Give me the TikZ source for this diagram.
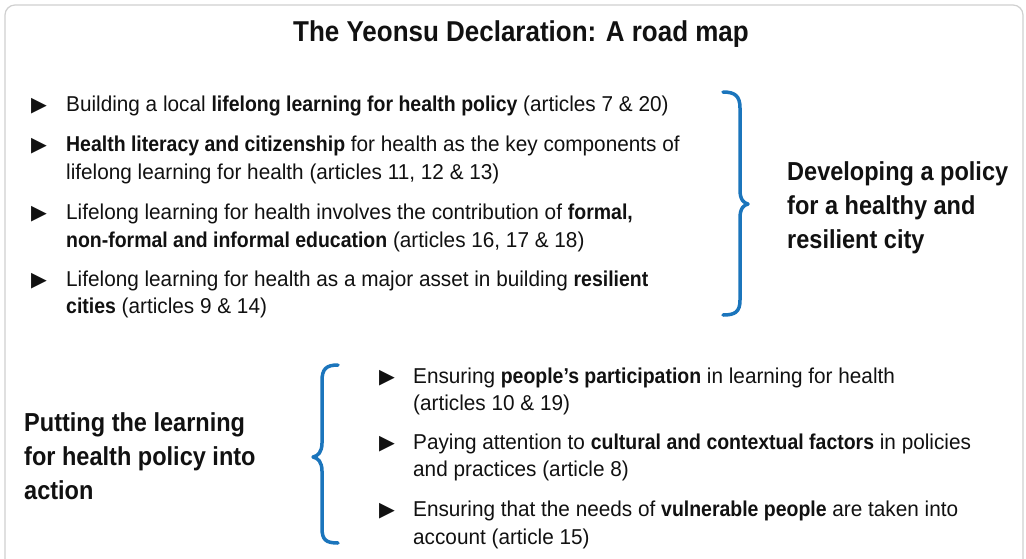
\documentclass[tikz,border=0pt]{standalone}
\usepackage{fontspec}
\setmainfont{Liberation Sans}[FakeStretch=0.965, BoldFeatures={FakeStretch=0.905}]
\newfontfamily\symfont{DejaVu Sans}
\definecolor{braceblue}{HTML}{1B75BC}
\definecolor{framegray}{HTML}{D0D0D0}
\definecolor{ink}{HTML}{111111}
\newcommand{\bodyfont}{\fontsize{21.5}{28}\selectfont}
\newcommand{\labfont}{\fontsize{26}{34}\selectfont\bfseries}
\newcommand{\titfont}{\fontsize{28.7}{36}\selectfont\bfseries}
\tikzset{
  txt/.style={anchor=base west, inner sep=0pt, text=ink, font=\bodyfont},
  bul/.style={anchor=base west, inner sep=0pt, text=ink, font=\symfont\fontsize{20.5}{22}\selectfont},
  lab/.style={anchor=base west, inner sep=0pt, text=ink, font=\labfont},
  bracestyle/.style={draw=braceblue, line width=3.5pt, line cap=round, line join=round}
}
\begin{document}
\begin{tikzpicture}[x=1pt,y=-1pt]
\useasboundingbox (0,0) rectangle (1026,558);
\fill[white] (0,0) rectangle (1026,558);
\draw[framegray, line width=1.2pt, rounded corners=10pt] (5,5) rectangle (1023,590);
% title
\node[anchor=base west, inner sep=0pt, text=ink, font=\titfont] (title) at (293,41) {The Yeonsu Declaration: A road map};
% top bullets
\node[bul] (t1) at (31,111) {▶};
\node[txt] (b1) at (66,111) {Building a local \textbf{lifelong learning for health policy} (articles 7 \& 20)};
\node[bul] (t2) at (31,151) {▶};
\node[txt] (b2a) at (66,151) {\textbf{Health literacy and citizenship} for health as the key components of};
\node[txt] (b2b) at (66,179) {lifelong learning for health (articles 11, 12 \& 13)};
\node[bul] (t3) at (31,219) {▶};
\node[txt] (b3a) at (66,219) {Lifelong learning for health involves the contribution of \textbf{formal,}};
\node[txt] (b3b) at (66,247) {\textbf{non-formal and informal education} (articles 16, 17 \& 18)};
\node[bul] (t4) at (31,286) {▶};
\node[txt] (b4a) at (66,286) {Lifelong learning for health as a major asset in building \textbf{resilient}};
\node[txt] (b4b) at (66,313) {\textbf{cities} (articles 9 \& 14)};
% top brace
\draw[bracestyle] (723,92) .. controls (735,92) and (740,96) .. (740,108) -- (740,190)
  .. controls (740,200) and (744,203) .. (748,204)
  .. controls (744,205) and (740,208) .. (740,218) -- (740,300)
  .. controls (740,312) and (735,315) .. (723,315);
% right label
\node[lab] (r1) at (787,180) {Developing a policy};
\node[lab] (r2) at (787,214) {for a healthy and};
\node[lab] (r3) at (787,248) {resilient city};
% left label
\node[lab] (l1) at (24,431) {Putting the learning};
\node[lab] (l2) at (24,465) {for health policy into};
\node[lab] (l3) at (24,499) {action};
% bottom brace
\draw[bracestyle] (338,365) .. controls (326,365) and (322,369) .. (322,381) -- (322,443)
  .. controls (322,452) and (318,456) .. (313,457)
  .. controls (318,458) and (322,462) .. (322,471) -- (322,528)
  .. controls (322,540) and (326,543) .. (338,543);
% bottom bullets
\node[bul] (u1) at (379,383) {▶};
\node[txt] (c1a) at (413,383) {Ensuring \textbf{people’s participation} in learning for health};
\node[txt] (c1b) at (413,410) {(articles 10 \& 19)};
\node[bul] (u2) at (379,449) {▶};
\node[txt] (c2a) at (413,449) {Paying attention to \textbf{cultural and contextual factors} in policies};
\node[txt] (c2b) at (413,476) {and practices (article 8)};
\node[bul] (u3) at (379,516) {▶};
\node[txt] (c3a) at (413,516) {Ensuring that the needs of \textbf{vulnerable people} are taken into};
\node[txt] (c3b) at (413,544) {account (article 15)};
\end{tikzpicture}
\end{document}
